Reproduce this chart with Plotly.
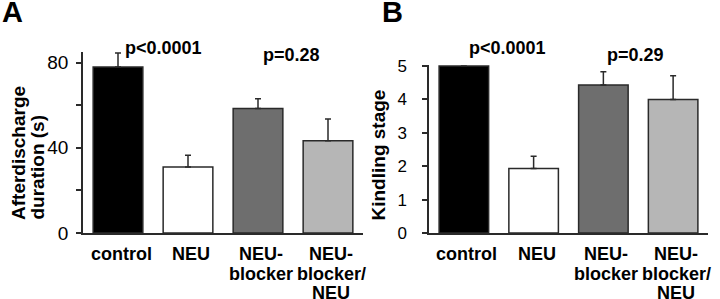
import plotly.graph_objects as go

categories = ["control", "NEU", "NEU-\nblocker", "NEU-\nblocker/\nNEU"]
colors = ["#000000", "#ffffff", "#6e6e6e", "#b6b6b6"]

ad_values = [78, 31, 58.5, 43.3]
ad_errors = [6.5, 5.5, 4.6, 10.2]

ks_values = [5.0, 1.93, 4.43, 4.0]
ks_errors = [0.0, 0.37, 0.4, 0.71]

a_ticks = [0, 20, 40, 60, 80]
a_ticktext = ["0", "", "40", "", "80"]
b_ticks = [0, 1, 2, 3, 4, 5]

FONT = "Liberation Sans, Arial, sans-serif"
LINE = "#2a2a2a"
H = 299.0
W = 720.0

def py(v):
    return 1 - v / H

fig = go.Figure()
for vals, errs, xa, ya in [(ad_values, ad_errors, "x", "y"), (ks_values, ks_errors, "x2", "y2")]:
    fig.add_trace(go.Bar(
        x=categories, y=vals, xaxis=xa, yaxis=ya,
        marker=dict(color=colors, line=dict(color=LINE, width=1.5)),
        error_y=dict(type="data", symmetric=False, array=errs,
                     arrayminus=[0] * len(errs), color=LINE, thickness=1.5, width=3),
        showlegend=False, hoverinfo="skip",
    ))

bottom = py(233)
xcommon = dict(showline=True, linecolor=LINE, linewidth=1.5, ticks="",
               showticklabels=False,
               range=[-0.5, 3.5], showgrid=False, zeroline=False, fixedrange=True,
               automargin=False)
ycommon = dict(showline=True, linecolor=LINE, linewidth=1.5, ticks="outside",
               ticklen=5, tickcolor=LINE, tickwidth=1.5,
               showgrid=False, zeroline=False, automargin=False, fixedrange=True)

fig.update_layout(
    width=720, height=299,
    margin=dict(l=0, r=0, t=0, b=0),
    paper_bgcolor="white", plot_bgcolor="white",
    bargap=0.29,
    xaxis=dict(domain=[83 / W, 363 / W], anchor="y", **xcommon),
    xaxis2=dict(domain=[429 / W, 708 / W], anchor="y2", **xcommon),
    yaxis=dict(domain=[bottom, py(52)], anchor="x", range=[0, 85],
               tickvals=a_ticks, ticktext=a_ticktext, ticklabelstandoff=4,
               tickfont=dict(family=FONT, size=19, color="#000"), **ycommon),
    yaxis2=dict(domain=[bottom, py(65)], anchor="x2", range=[0, 5.03],
                tickvals=b_ticks, ticklabelstandoff=12,
                tickfont=dict(family=FONT, size=17, color="#000"), **ycommon),
)

bold = lambda s: dict(family=FONT, size=s, color="#000", weight="bold")

# category labels, one annotation per line
line_y = [254, 274, 293]
for xa in ["x", "x2"]:
    for cat in categories:
        for i, part in enumerate(cat.split("\n")):
            fig.add_annotation(text=part, x=cat, xref=xa, y=py(line_y[i]), yref="paper",
                               xanchor="center", yanchor="middle", xshift=3,
                               showarrow=False, font=bold(18))

# y-axis titles
fig.add_annotation(text="Afterdischarge", x=19 / W, y=py(222), xref="paper", yref="paper",
                   textangle=-90, xanchor="center", yanchor="bottom", showarrow=False, font=bold(19))
fig.add_annotation(text="duration (s)", x=37 / W, y=py(222), xref="paper", yref="paper",
                   textangle=-90, xanchor="center", yanchor="bottom", showarrow=False, font=bold(19))
fig.add_annotation(text="Kindling stage", x=378 / W, y=py(223), xref="paper", yref="paper",
                   textangle=-90, xanchor="center", yanchor="bottom", showarrow=False, font=bold(19))

# panel letters
fig.add_annotation(text="A", x=0, y=1, xref="paper", yref="paper",
                   xanchor="left", yanchor="top", showarrow=False, yshift=6, font=bold(29))
fig.add_annotation(text="B", x=380 / W, y=1, xref="paper", yref="paper",
                   xanchor="left", yanchor="top", showarrow=False, yshift=6, font=bold(29))

# p-values
for txt, cx, cy in [("p&lt;0.0001", 163, 48), ("p=0.28", 291, 55),
                    ("p&lt;0.0001", 507, 48), ("p=0.29", 635, 55)]:
    fig.add_annotation(text=txt, x=cx / W, y=py(cy), xref="paper", yref="paper",
                       xanchor="center", yanchor="middle",
                       showarrow=False, font=bold(18))

fig.write_html("out.html", config={"displayModeBar": False},
               post_script="document.body.style.margin='0';document.body.style.overflow='hidden';")
